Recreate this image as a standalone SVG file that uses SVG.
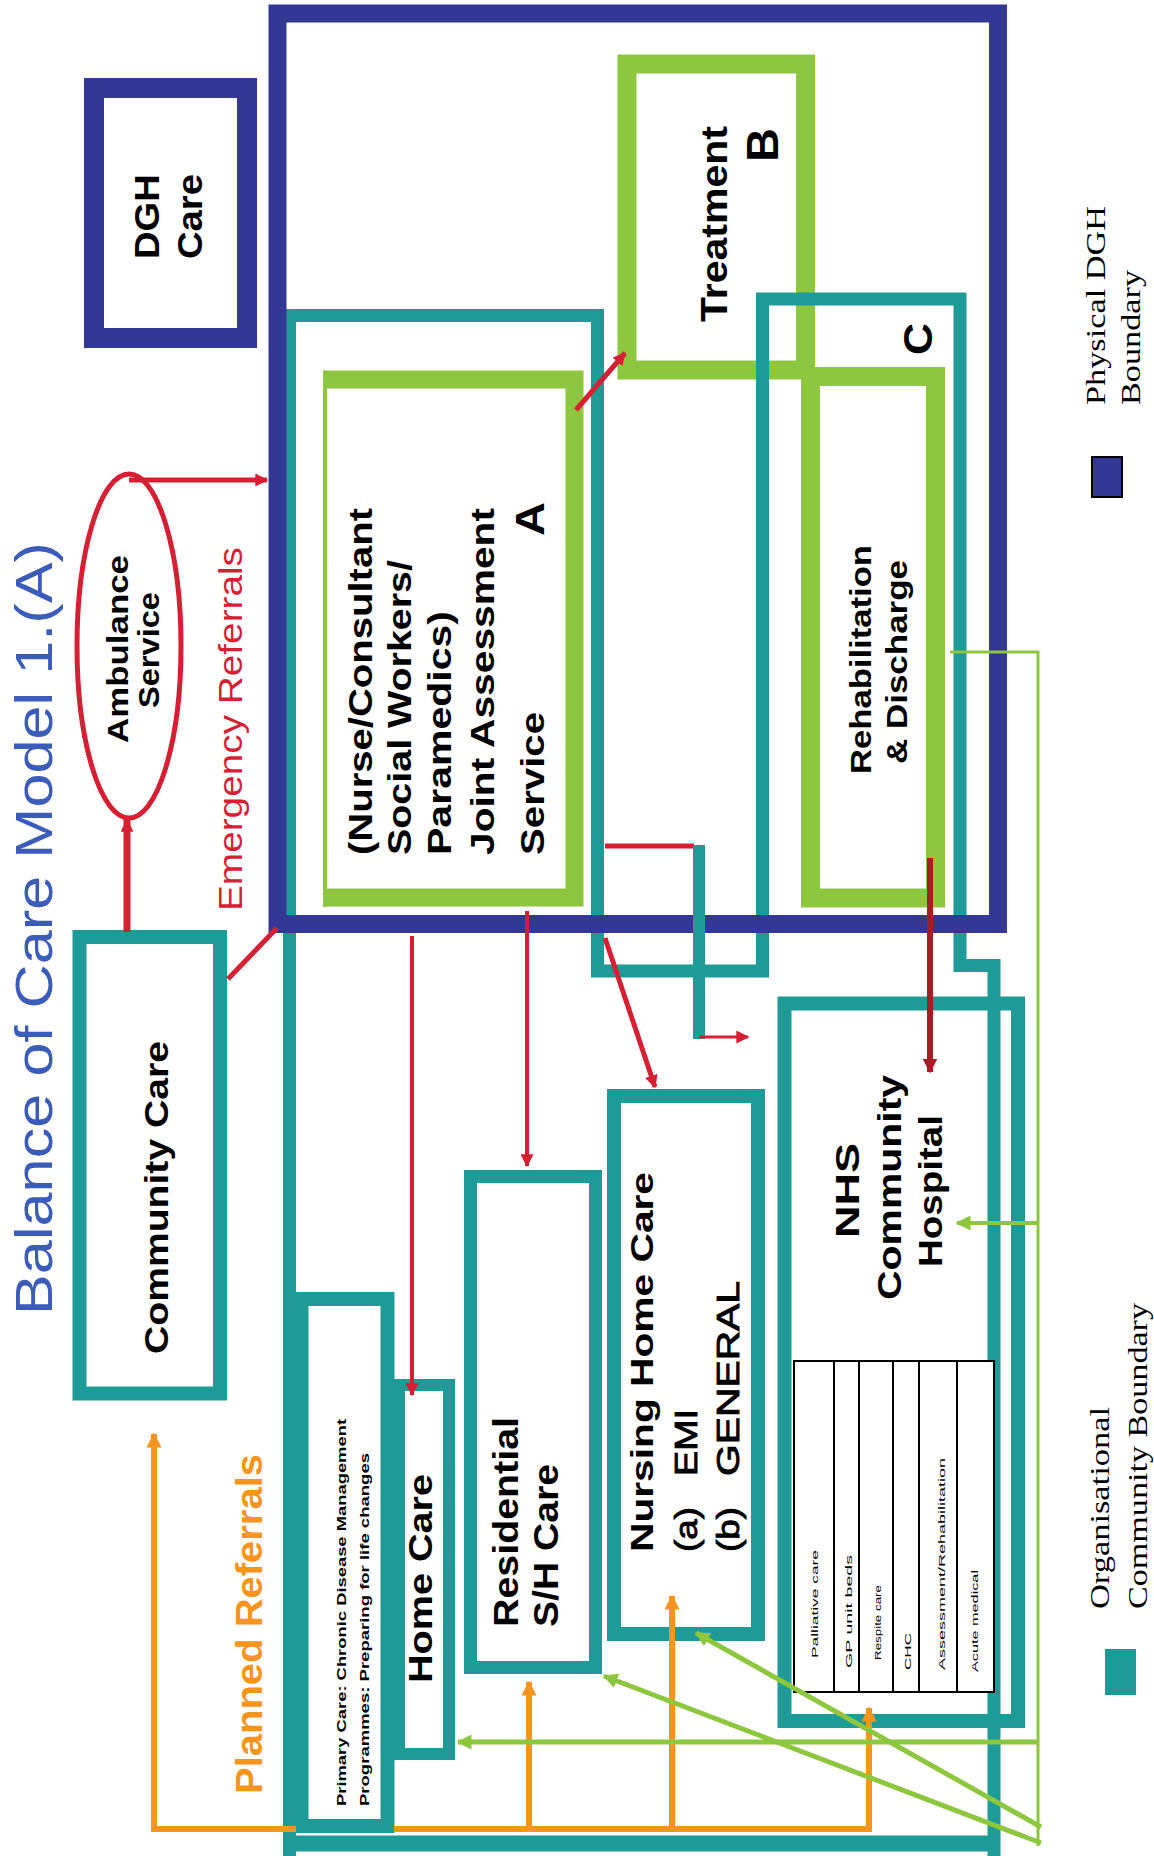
<svg xmlns="http://www.w3.org/2000/svg" width="1154" height="1856" viewBox="0 0 1154 1856">
<defs>
<marker id="ar-red" viewBox="0 0 10 10" refX="9" refY="5" markerWidth="13" markerHeight="13" markerUnits="userSpaceOnUse" orient="auto"><path d="M0,0 L10,5 L0,10 z" fill="#d71f34"/></marker>
<marker id="ar-dred" viewBox="0 0 10 10" refX="9" refY="5" markerWidth="15" markerHeight="15" markerUnits="userSpaceOnUse" orient="auto"><path d="M0,0 L10,5 L0,10 z" fill="#a61e25"/></marker>
<marker id="ar-org" viewBox="0 0 10 10" refX="9" refY="5" markerWidth="15" markerHeight="15" markerUnits="userSpaceOnUse" orient="auto"><path d="M0,0 L10,5 L0,10 z" fill="#f7941d"/></marker>
<marker id="ar-grn" viewBox="0 0 10 10" refX="9" refY="5" markerWidth="15" markerHeight="15" markerUnits="userSpaceOnUse" orient="auto"><path d="M0,0 L10,5 L0,10 z" fill="#8dc63f"/></marker>
</defs>
<style>
.teal{fill:none;stroke:#1e9a97;stroke-width:13}
.green{fill:none;stroke:#8dc63f;stroke-width:19}
.navy{fill:none;stroke:#333894;stroke-width:18}
.t{font-family:"Liberation Sans",Arial,sans-serif;fill:#000}
.b{font-weight:bold}
.semi{stroke:#000;stroke-width:0.9}
.serif{font-family:"Liberation Serif","Times New Roman",serif;fill:#000}
.red{fill:none;stroke:#d71f34}
.org{fill:none;stroke:#f7941d;stroke-width:6}
.grn{fill:none;stroke:#8dc63f}
.tbl{fill:none;stroke:#000;stroke-width:2}
</style>
<rect x="0" y="0" width="1154" height="1856" fill="#fff"/>

<g id="title">
<text class="t" style="fill:#3b5cb8" font-size="52" transform="translate(52,1315) rotate(-90)" textLength="773" lengthAdjust="spacingAndGlyphs">Balance of Care Model 1.(A)</text>
</g>

<g id="treatment-b">
<rect class="green" x="627" y="64" width="178.5" height="306"/>
<text class="t b" font-size="36" transform="translate(727,322) rotate(-90)" textLength="196" lengthAdjust="spacingAndGlyphs">Treatment</text>
<text class="t b" font-size="44" transform="translate(778,162) rotate(-90)" textLength="34" lengthAdjust="spacingAndGlyphs">B</text>
</g>

<g id="rehabilitation">
<rect class="green" x="810.5" y="376.5" width="125" height="521.5"/>
<text class="t b" font-size="30" transform="translate(871,774) rotate(-90)" textLength="229" lengthAdjust="spacingAndGlyphs">Rehabilitation</text>
<text class="t b" font-size="30" transform="translate(907,764) rotate(-90)" textLength="204" lengthAdjust="spacingAndGlyphs">&amp; Discharge</text>
</g>

<g id="joint-assessment-a">
<path class="green" d="M323,379.5 H574.5 V897.5 H323" style="stroke-width:18"/>
<path d="M325,372 V907" fill="none" stroke="#8dc63f" stroke-width="4"/>
<text class="t b" font-size="34" transform="translate(372,855) rotate(-90)" textLength="347" lengthAdjust="spacingAndGlyphs">(Nurse/Consultant</text>
<text class="t b" font-size="34" transform="translate(411,855) rotate(-90)" textLength="295" lengthAdjust="spacingAndGlyphs">Social Workers/</text>
<text class="t b" font-size="34" transform="translate(451,855) rotate(-90)" textLength="244" lengthAdjust="spacingAndGlyphs">Paramedics)</text>
<text class="t b" font-size="34" transform="translate(494,855) rotate(-90)" textLength="347" lengthAdjust="spacingAndGlyphs">Joint Assessment</text>
<text class="t b" font-size="34" transform="translate(544,855) rotate(-90)" textLength="143" lengthAdjust="spacingAndGlyphs">Service</text>
<text class="t b" font-size="40" transform="translate(544,536) rotate(-90)" textLength="34" lengthAdjust="spacingAndGlyphs">A</text>
</g>

<g id="community-boundary">
<path class="teal" d="M289.5,1856 V315.5 H597.5 V971 H762.5 V299 H960 V965.5 H994 V1856"/>
<path class="teal" d="M283,1843.5 H1000" style="stroke-width:16"/>
<text class="t b" font-size="40" transform="translate(932,355) rotate(-90)" textLength="32" lengthAdjust="spacingAndGlyphs">C</text>
</g>

<g id="nhs-community-hospital">
<rect class="teal" x="784.5" y="1003.5" width="233.5" height="717.5" style="stroke-width:14"/>
<text class="t b" font-size="34" transform="translate(859,1238) rotate(-90)" textLength="95" lengthAdjust="spacingAndGlyphs">NHS</text>
<text class="t b" font-size="34" transform="translate(901,1300) rotate(-90)" textLength="225" lengthAdjust="spacingAndGlyphs">Community</text>
<text class="t b" font-size="34" transform="translate(942,1267) rotate(-90)" textLength="152" lengthAdjust="spacingAndGlyphs">Hospital</text>
<rect class="tbl" x="794" y="1361" width="200" height="331" style="fill:#fff"/>
<path class="tbl" d="M834,1361 V1692 M859,1361 V1692 M893,1361 V1692 M919,1361 V1692 M957,1361 V1692"/>
<text class="t" font-size="9" transform="translate(818,1658) rotate(-90)" textLength="108" lengthAdjust="spacingAndGlyphs">Palliative care</text>
<text class="t" font-size="9" transform="translate(852,1668) rotate(-90)" textLength="113" lengthAdjust="spacingAndGlyphs">GP unit beds</text>
<text class="t" font-size="9" transform="translate(881,1660) rotate(-90)" textLength="75" lengthAdjust="spacingAndGlyphs">Respite care</text>
<text class="t" font-size="9" transform="translate(911,1670) rotate(-90)" textLength="37" lengthAdjust="spacingAndGlyphs">CHC</text>
<text class="t" font-size="9" transform="translate(945,1670) rotate(-90)" textLength="212" lengthAdjust="spacingAndGlyphs">Assessment/Rehabilitation</text>
<text class="t" font-size="9" transform="translate(978,1672) rotate(-90)" textLength="102" lengthAdjust="spacingAndGlyphs">Acute medical</text>
</g>

<g id="primary-care">
<rect class="teal" x="301.5" y="1299" width="86" height="527" style="stroke-width:14"/>
<text class="t b" font-size="12" transform="translate(346,1806) rotate(-90)" textLength="387" lengthAdjust="spacingAndGlyphs">Primary Care: Chronic Disease Management</text>
<text class="t b" font-size="12" transform="translate(369,1806) rotate(-90)" textLength="353" lengthAdjust="spacingAndGlyphs">Programmes: Preparing for life changes</text>
</g>

<g id="home-care">
<rect class="teal" x="399" y="1385" width="50" height="369" style="stroke-width:12"/>
<text class="t b" font-size="34" transform="translate(432,1683) rotate(-90)" textLength="209" lengthAdjust="spacingAndGlyphs">Home Care</text>
</g>

<g id="residential-care">
<rect class="teal" x="470.5" y="1176.5" width="125" height="491"/>
<text class="t b" font-size="35" transform="translate(518,1627) rotate(-90)" textLength="210" lengthAdjust="spacingAndGlyphs">Residential</text>
<text class="t b" font-size="35" transform="translate(558,1627) rotate(-90)" textLength="163" lengthAdjust="spacingAndGlyphs">S/H Care</text>
</g>

<g id="nursing-home-care">
<rect class="teal" x="614" y="1096" width="144" height="538" style="stroke-width:14"/>
<text class="t b" font-size="32" transform="translate(653,1552) rotate(-90)" textLength="380" lengthAdjust="spacingAndGlyphs">Nursing Home Care</text>
<text class="t semi" font-size="32" transform="translate(697,1552) rotate(-90)" textLength="45" lengthAdjust="spacingAndGlyphs">(a)</text>
<text class="t semi" font-size="32" transform="translate(697,1476) rotate(-90)" textLength="67" lengthAdjust="spacingAndGlyphs">EMI</text>
<text class="t semi" font-size="32" transform="translate(739,1552) rotate(-90)" textLength="45" lengthAdjust="spacingAndGlyphs">(b)</text>
<text class="t semi" font-size="32" transform="translate(739,1476) rotate(-90)" textLength="195" lengthAdjust="spacingAndGlyphs">GENERAL</text>
</g>

<g id="community-care">
<rect class="teal" x="79.5" y="937" width="140.5" height="456.5" style="stroke-width:14"/>
<text class="t b" font-size="33" transform="translate(168,1354) rotate(-90)" textLength="313" lengthAdjust="spacingAndGlyphs">Community Care</text>
</g>

<g id="dgh-boundary">
<rect class="navy" x="277.5" y="13.5" width="720.5" height="910.5"/>
</g>

<g id="dgh-care">
<rect class="navy" x="94" y="88" width="153" height="250" style="stroke-width:20"/>
<text class="t b" font-size="35" transform="translate(159,259) rotate(-90)" textLength="85" lengthAdjust="spacingAndGlyphs">DGH</text>
<text class="t b" font-size="35" transform="translate(202,259) rotate(-90)" textLength="85" lengthAdjust="spacingAndGlyphs">Care</text>
</g>

<g id="ambulance-service">
<ellipse cx="129" cy="646" rx="52" ry="172" fill="none" stroke="#d71f34" stroke-width="5"/>
<text class="t b" font-size="29" transform="translate(128,743) rotate(-90)" textLength="188" lengthAdjust="spacingAndGlyphs">Ambulance</text>
<text class="t b" font-size="29" transform="translate(159,708) rotate(-90)" textLength="116" lengthAdjust="spacingAndGlyphs">Service</text>
</g>

<g id="connectors">
<path class="red" d="M127,932 V820" stroke-width="7" marker-end="url(#ar-red)"/>
<path class="red" d="M129,480 H267" stroke-width="5" marker-end="url(#ar-red)"/>
<path class="red" d="M228,979 L277,928" stroke-width="5"/>
<path class="red" d="M576,410 L625,353" stroke-width="5" marker-end="url(#ar-red)"/>
<path class="red" d="M605,846 H694" stroke-width="5"/>
<path d="M699,845 V1039" fill="none" stroke="#1e9a97" stroke-width="12"/>
<path class="red" d="M699,1037 H748" stroke-width="3" marker-end="url(#ar-red)"/>
<path class="red" d="M605,938 L655,1087" stroke-width="5" marker-end="url(#ar-red)"/>
<path class="red" d="M527,911 V1166" stroke-width="4" marker-end="url(#ar-red)"/>
<path class="red" d="M412,936 V1395" stroke-width="4" marker-end="url(#ar-red)"/>
<path d="M930,858 V1072" fill="none" stroke="#a61e25" stroke-width="6" marker-end="url(#ar-dred)"/>
<path class="org" d="M296,1829 H154 V1434" marker-end="url(#ar-org)"/>
<path class="org" d="M394,1829 H869 V1708" marker-end="url(#ar-org)"/>
<path class="org" d="M529,1829 V1682" marker-end="url(#ar-org)"/>
<path class="org" d="M672,1829 V1596" marker-end="url(#ar-org)"/>
<path class="grn" d="M950,652 H1038 V1846" stroke-width="3"/>
<path class="grn" d="M1038,1223 H957" stroke-width="4" marker-end="url(#ar-grn)"/>
<path class="grn" d="M1038,1742 H458" stroke-width="5" marker-end="url(#ar-grn)"/>
<path class="grn" d="M1041,1827 L696,1633" stroke-width="5" marker-end="url(#ar-grn)"/>
<path class="grn" d="M1041,1843 L604,1676" stroke-width="5" marker-end="url(#ar-grn)"/>
</g>

<g id="labels">
<text class="t" style="fill:#d71f34" font-size="33" transform="translate(242,911) rotate(-90)" textLength="364" lengthAdjust="spacingAndGlyphs">Emergency Referrals</text>
<text class="t b" style="fill:#f7941d" font-size="36" transform="translate(262,1794) rotate(-90)" textLength="340" lengthAdjust="spacingAndGlyphs">Planned Referrals</text>
</g>

<g id="legend">
<rect x="1092" y="457" width="30" height="40" fill="#333894" stroke="#000" stroke-width="2"/>
<text class="serif" font-size="27" transform="translate(1105,405) rotate(-90)" textLength="199" lengthAdjust="spacingAndGlyphs">Physical DGH</text>
<text class="serif" font-size="27" transform="translate(1140,405) rotate(-90)" textLength="135" lengthAdjust="spacingAndGlyphs">Boundary</text>
<rect x="1105" y="1649" width="31" height="46" fill="#1e9a97"/>
<text class="serif" font-size="27" transform="translate(1109,1609) rotate(-90)" textLength="202" lengthAdjust="spacingAndGlyphs">Organisational</text>
<text class="serif" font-size="27" transform="translate(1147,1609) rotate(-90)" textLength="306" lengthAdjust="spacingAndGlyphs">Community Boundary</text>
</g>
</svg>
